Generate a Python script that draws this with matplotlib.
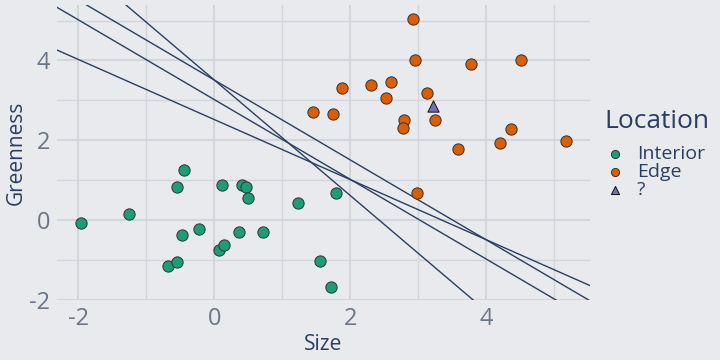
import numpy as np
import matplotlib.pyplot as plt

plt.rcParams['font.family'] = ['Open Sans', 'DejaVu Sans']
plt.rcParams['axes.unicode_minus'] = False

# Interior points (Size, Greenness)
interior_x = [-1.96, -1.26, -0.55, -0.44, -0.47, -0.23, 0.11, 0.41, 0.47, 0.50,
              0.36, 0.71, 0.07, 0.14, -0.68, -0.55, 1.23, 1.79, 1.56, 1.72]
interior_y = [-0.07, 0.15, 0.82, 1.25, -0.38, -0.22, 0.87, 0.89, 0.84, 0.55,
              -0.30, -0.30, -0.74, -0.63, -1.14, -1.06, 0.43, 0.69, -1.03, -1.68]

# Edge points
edge_x = [1.45, 1.74, 1.88, 2.92, 2.96, 3.78, 4.51, 2.31, 2.60, 2.53,
          3.13, 2.79, 2.77, 3.25, 4.37, 3.58, 4.21, 5.17, 2.98]
edge_y = [2.71, 2.66, 3.30, 5.05, 4.00, 3.92, 4.02, 3.38, 3.45, 3.05,
          3.18, 2.50, 2.30, 2.50, 2.29, 1.78, 1.93, 1.98, 0.69]

# unknown point
unknown_x = [3.22]
unknown_y = [2.86]

# candidate separating lines: y = intercept + slope * x
line_slopes = [-0.752, -0.998, -1.0, -1.446]
line_intercepts = [2.52, 3.02, 3.51, 3.51]

bg = '#E9EAEE'
grid_col = '#D2D5DA'
navy = '#2A3F5F'
tick_col = '#6B7585'

fig = plt.figure(figsize=(7.2, 3.6), dpi=100, facecolor=bg)
ax = fig.add_axes([57/720, 60/360, 533/720, 295/360], facecolor=bg)

for s, b in zip(line_slopes, line_intercepts):
    ax.axline((0, b), slope=s, color=navy, lw=1.0, zorder=2)

ax.scatter(interior_x, interior_y, s=66, color='#1B9E77', edgecolor='#333333',
           linewidth=0.7, zorder=3, label='Interior')
ax.scatter(edge_x, edge_y, s=66, color='#D95F02', edgecolor='#333333',
           linewidth=0.7, zorder=3, label='Edge')
ax.scatter(unknown_x, unknown_y, s=66, marker='^', color='#7570B3',
           edgecolor='#111111', linewidth=0.7, zorder=3, label='?')

ax.set_xlim(-2.316, 5.53)
ax.set_ylim(-2, 5.39)
ax.set_xticks([-2, 0, 2, 4])
ax.set_yticks([-2, 0, 2, 4])
ax.set_xticks([-1, 1, 3, 5], minor=True)
ax.set_yticks([-1, 1, 3, 5], minor=True)
ax.grid(True, which='major', color=grid_col, lw=1.5, zorder=0)
ax.grid(True, which='minor', color=grid_col, lw=1.0, zorder=0)
ax.set_axisbelow(True)
ax.tick_params(which='both', length=0, labelsize=17, labelcolor=tick_col, pad=5)
for sp in ax.spines.values():
    sp.set_visible(False)

ax.set_xlabel('Size', fontsize=15, color=navy, labelpad=2)
ax.set_ylabel('Greenness', fontsize=15, color=navy, labelpad=2)

# legend title drawn separately to get plotly-like spacing
fig.text(604/720, (360-128)/360, 'Location', fontsize=19, color=navy,
         ha='left', va='baseline')
leg = ax.legend(loc='upper left', bbox_to_anchor=(604/720, (360-145)/360),
                bbox_transform=fig.transFigure, frameon=False,
                fontsize=14, handletextpad=0.55, labelspacing=0.0,
                borderaxespad=0, borderpad=0, handlelength=1.15,
                markerscale=0.72)
for t in leg.get_texts():
    t.set_color(navy)

fig.savefig('out.png', dpi=100, facecolor=bg)
